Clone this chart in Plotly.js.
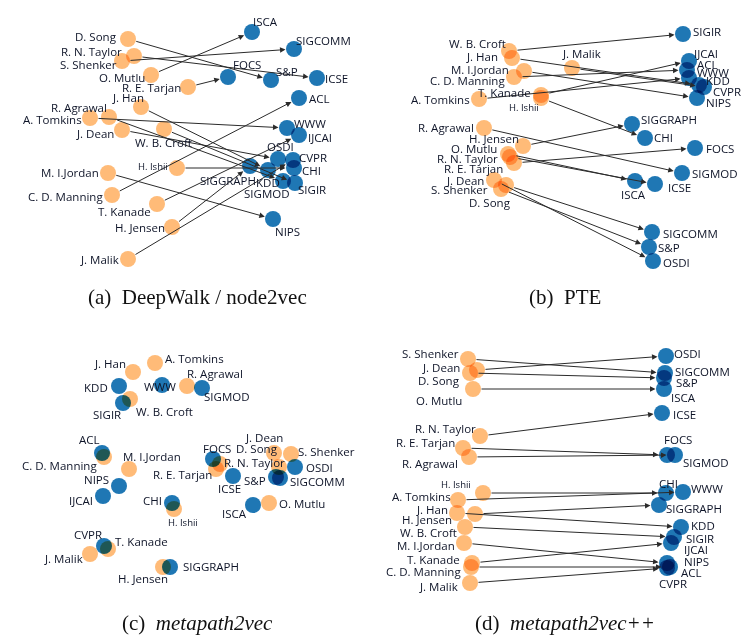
<!DOCTYPE html>
<html><head><meta charset="utf-8">
<script src="https://cdn.plot.ly/plotly-3.0.1.min.js"></script>
<style>
html,body{margin:0;padding:0;background:#fff}
#chart{width:754px;height:643px}
.scatterlayer .points path{mix-blend-mode:multiply}
</style>
</head><body><div id="chart"></div>
<script>
// Authors and the venue each one points to (same index)
const authors = ["D. Song","R. N. Taylor","S. Shenker","O. Mutlu","R. E. Tarjan","J. Han","R. Agrawal","A. Tomkins","J. Dean","W. B. Croft","M. I.Jordan","H. Ishii","C. D. Manning","T. Kanade","H. Jensen","J. Malik"];
const venues  = ["S&P","ICSE","SIGCOMM","ISCA","FOCS","KDD","SIGMOD","WWW","OSDI","SIGIR","NIPS","CHI","ACL","IJCAI","SIGGRAPH","CVPR"];
const captions = ["(a)  DeepWalk / node2vec","(b)  PTE","(c)  <i>metapath2vec</i>","(d)  <i>metapath2vec++</i>"];

// (a) DeepWalk / node2vec 2-D projection
const dwAuthorX = [128,134,122,151,188,141,109,90,122,164,108,177,112,157,172,128];
const dwAuthorY = [39,56,61,75,87,107,117,118,130,129,173,168,195,204,227,259];
const dwVenueX  = [271,317,294,252,228,268,283,287,278,295,273,294,299,299,250,293];
const dwVenueY  = [80,78,49,32,77,170,181,128,159,183,219,168,98,135,166,160];
// (b) PTE
const pteAuthorX = [124,133,129,131,137,135,107,102,117,132,147,164,137,164,146,195];
const pteAuthorY = [189,157,185,154,163,58,128,99,180,51,71,98,77,95,146,68];
const pteVenueX  = [272,278,275,258,318,322,305,312,276,306,320,268,310,312,255,327];
const pteVenueY  = [247,184,232,181,148,85,173,78,261,34,98,138,70,61,124,87];
// (c) metapath2vec
const m2vAuthorX = [279,220,291,269,216,133,187,155,274,130,129,174,104,108,163,90];
const m2vAuthorY = [147,144,134,183,149,52,66,43,133,79,149,189,137,229,247,234];
const m2vVenueX  = [276,233,280,253,213,119,202,162,295,123,119,172,102,103,170,104];
const m2vVenueY  = [157,156,158,185,139,66,68,65,147,83,166,183,133,176,247,226];
// (d) metapath2vec++
const m2vppAuthorX = [93,103,91,96,86,80,92,81,100,88,87,106,94,95,98,93];
const m2vppAuthorY = [53,116,39,69,128,193,137,180,50,207,223,173,247,243,194,263];
const m2vppVenueX  = [287,285,288,287,290,304,298,306,289,297,290,289,293,294,282,290];
const m2vppVenueY  = [58,93,53,69,135,207,135,172,36,217,243,173,247,223,185,248];

// label placement (layout only): [x, y, anchor]
const labelPlace = {
  a: {
    au: [[118,36,'r'],[123,51,'r'],[118,64,'r'],[146,77,'r'],[182,87,'r'],[128,97,'c'],[108,107,'r'],[83,119,'r'],[115,133,'r'],[163,142,'c'],[100,172,'r'],[153,166,'c'],[104,196,'r'],[152,211,'r'],[166,227,'r'],[120,259,'r']],
    ve: [[287,71,'c'],[324,78,'l'],[295,40,'l'],[252,21,'l'],[232,64,'l'],[255,182,'l'],[243,193,'l'],[293,123,'l'],[266,146,'l'],[297,189,'l'],[274,231,'l'],[301,170,'l'],[308,98,'l'],[307,137,'l'],[199,180,'l'],[298,157,'l']]
  },
  b: {
    au: [[113,202,'c'],[122,158,'r'],[112,189,'r'],[121,148,'r'],[127,168,'r'],[122,56,'r'],[98,127,'r'],[94,99,'r'],[108,180,'r'],[130,43,'r'],[133,69,'r'],[147,107,'c'],[129,80,'r'],[155,92,'r'],[143,138,'r'],[204,53,'c']],
    ve: [[280,247,'l'],[290,187,'l'],[285,233,'l'],[243,194,'l'],[328,148,'l'],[328,80,'l'],[314,173,'l'],[319,72,'l'],[285,262,'l'],[315,31,'l'],[328,102,'l'],[276,137,'l'],[319,64,'l'],[316,53,'l'],[263,119,'l'],[335,91,'l']]
  },
  c: {
    au: [[257,128,'c'],[223,142,'l'],[297,131,'l'],[278,183,'l'],[213,154,'r'],[127,43,'r'],[186,53,'l'],[164,38,'l'],[244,117,'l'],[135,91,'l'],[122,136,'l'],[167,202,'l'],[98,145,'r'],[114,221,'l'],[117,258,'l'],[84,238,'r']],
    ve: [[267,160,'r'],[217,168,'l'],[289,161,'l'],[248,193,'r'],[202,128,'l'],[109,67,'r'],[203,76,'l'],[143,66,'l'],[305,147,'l'],[92,94,'l'],[110,159,'r'],[163,180,'r'],[78,119,'l'],[94,180,'r'],[182,246,'l'],[73,214,'l']]
  },
  d: {
    au: [[84,60,'r'],[100,108,'r'],[83,33,'r'],[86,80,'r'],[79,122,'r'],[72,189,'r'],[82,143,'r'],[75,176,'r'],[84,47,'r'],[81,212,'r'],[79,225,'r'],[95,164,'r'],[85,251,'r'],[84,239,'r'],[76,199,'r'],[82,266,'r']],
    ve: [[298,62,'l'],[295,94,'l'],[297,51,'l'],[293,77,'l'],[286,119,'l'],[313,205,'l'],[305,142,'l'],[313,168,'l'],[296,33,'l'],[308,218,'l'],[306,241,'l'],[281,163,'l'],[303,252,'l'],[306,229,'l'],[288,188,'l'],[281,263,'l']]
  }
};

const W = 754, H = 643, PW = 377, PH = 280;
const panels = [
  {k:'a', xa:'x',  ya:'y',  ax:dwAuthorX,   ay:dwAuthorY,   vx:dwVenueX,   vy:dwVenueY,   arrows:true,  col:0, top:0},
  {k:'b', xa:'x2', ya:'y2', ax:pteAuthorX,  ay:pteAuthorY,  vx:pteVenueX,  vy:pteVenueY,  arrows:true,  col:1, top:0},
  {k:'c', xa:'x3', ya:'y3', ax:m2vAuthorX,  ay:m2vAuthorY,  vx:m2vVenueX,  vy:m2vVenueY,  arrows:false, col:0, top:320},
  {k:'d', xa:'x4', ya:'y4', ax:m2vppAuthorX,ay:m2vppAuthorY,vx:m2vppVenueX,vy:m2vppVenueY,arrows:true,  col:1, top:320}
];

const ANCH = {l:'left', r:'right', c:'center'};
const TXT = '#0e1428';
const labelFont = {family:'Open Sans, sans-serif', size:11.5, color:TXT};
const smallFont = {family:'Open Sans, sans-serif', size:9.5, color:TXT};

const data = [], annotations = [];
const layout = {
  width: W, height: H, margin:{l:0,r:0,t:0,b:0},
  paper_bgcolor:'#fff', plot_bgcolor:'rgba(0,0,0,0)', showlegend:false,
  annotations: annotations
};

panels.forEach((p, i) => {
  const sfx = i === 0 ? '' : String(i+1);
  const x0 = p.col * PW / W, x1 = (p.col + 1) * PW / W;
  const yTop = 1 - p.top / H, yBot = 1 - (p.top + PH) / H;
  layout['xaxis' + sfx] = {domain:[x0, x1], range:[0, PW], visible:false, fixedrange:true};
  layout['yaxis' + sfx] = {domain:[yBot, yTop], range:[PH, 0], visible:false, fixedrange:true};

  if (p.arrows) {
    authors.forEach((a, j) => {
      annotations.push({xref:p.xa, yref:p.ya, axref:p.xa, ayref:p.ya,
        x:p.vx[j], y:p.vy[j], ax:p.ax[j], ay:p.ay[j], text:'', showarrow:true,
        arrowhead:2, arrowsize:1.1, arrowwidth:1, arrowcolor:'#2b2b2b', standoff:8.5, startstandoff:7});
    });
  }
  data.push({type:'scatter', mode:'markers', x:p.ax, y:p.ay, xaxis:p.xa, yaxis:p.ya,
    marker:{size:16, color:'#ffbb78', line:{width:0}}, hoverinfo:'skip', cliponaxis:false});
  data.push({type:'scatter', mode:'markers', x:p.vx, y:p.vy, xaxis:p.xa, yaxis:p.ya,
    marker:{size:16, color:'#1f77b4', line:{width:0}}, hoverinfo:'skip', cliponaxis:false});

  const lp = labelPlace[p.k];
  authors.forEach((a, j) => {
    const L = lp.au[j];
    annotations.push({xref:p.xa, yref:p.ya, x:L[0], y:L[1], text:a, showarrow:false,
      xanchor:ANCH[L[2]], yanchor:'middle', borderpad:0,
      font: a === 'H. Ishii' ? smallFont : labelFont});
  });
  venues.forEach((v, j) => {
    const L = lp.ve[j];
    annotations.push({xref:p.xa, yref:p.ya, x:L[0], y:L[1], text:v, showarrow:false,
      xanchor:ANCH[L[2]], yanchor:'middle', borderpad:0, font:labelFont});
  });

  const cx = p.col === 0 ? 197 : 565;
  const cy = p.top === 0 ? 297 : 623;
  annotations.push({xref:'paper', yref:'paper', x:cx / W, y:1 - cy / H, text:captions[i],
    showarrow:false, xanchor:'center', yanchor:'middle',
    font:{family:'Liberation Serif, serif', size:21, color:'#111'}});
});

Plotly.newPlot('chart', data, layout, {displayModeBar:false, staticPlot:true});
</script>
</body></html>
